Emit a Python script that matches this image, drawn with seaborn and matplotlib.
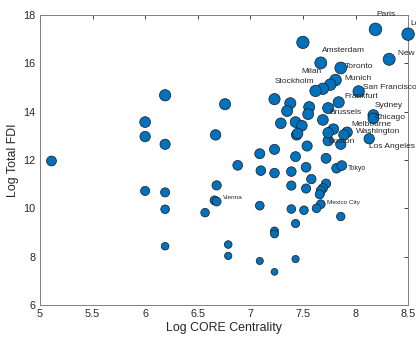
import numpy as np
import pandas as pd
import seaborn as sns
import matplotlib.pyplot as plt
from matplotlib.ticker import FuncFormatter

# log CORE centrality / log total FDI
core = [8.19, 8.50, 8.32, 7.67, 7.86, 7.81, 7.76, 7.69, 7.62, 8.03,
        7.84, 7.74, 8.17, 8.17, 7.79, 7.92, 7.89, 7.74, 8.13, 7.82,
        7.87, 6.66, 6.68, 7.67,
        7.50, 6.19, 6.00, 6.00, 6.19, 5.11, 6.76, 6.67, 7.23, 7.38,
        7.35, 7.56, 7.55, 7.69, 7.29, 7.43, 7.49, 7.44, 7.45, 7.74,
        7.86, 7.54, 7.09, 7.23, 7.43, 7.72, 6.88, 7.10, 7.23, 7.39,
        7.53, 7.58, 7.39, 7.53, 7.72, 7.69, 7.67, 7.66, 7.63, 7.51,
        7.39, 7.09, 7.86, 7.43, 7.23, 7.23, 6.57, 6.79, 6.79, 7.09,
        7.43, 7.23, 6.00, 6.19, 6.19, 6.19, 6.68]
fdi = [17.41, 17.21, 16.17, 16.02, 15.81, 15.31, 15.12, 14.95, 14.86, 14.84,
       14.39, 14.15, 13.86, 13.72, 13.28, 13.15, 13.04, 12.80, 12.88, 11.66,
       11.77, 10.33, 10.28, 10.17,
       16.87, 14.68, 13.57, 12.97, 12.65, 11.96, 14.31, 13.04, 14.52, 14.35,
       14.03, 14.19, 13.90, 13.66, 13.52, 13.57, 13.42, 13.04, 13.10, 13.13,
       12.65, 12.58, 12.26, 12.44, 12.14, 12.07, 11.78, 11.56, 11.46, 11.52,
       11.70, 11.21, 10.94, 10.82, 11.02, 10.83, 10.73, 10.58, 10.00, 9.92,
       9.97, 10.11, 9.66, 9.37, 9.06, 8.94, 9.82, 8.50, 8.03, 7.82,
       7.90, 7.37, 10.72, 10.66, 9.96, 8.43, 10.95]

# city labels and where their text sits
cities = ["Paris", "London", "New York", "Amsterdam", "Toronto", "Milan", "Munich",
          "Stockholm", "San Francisco", "Frankfurt", "Sydney", "Brussels", "Chicago",
          "Melbourne", "Washington", "Boston", "Los Angeles"]
city_x = [8.20, 8.52, 8.40, 7.68, 7.90, 7.49, 7.89, 7.23, 8.07, 7.89, 8.18,
          7.75, 8.18, 7.96, 8.00, 7.74, 8.13]
city_y = [18.02, 17.67, 16.41, 16.55, 15.86, 15.65, 15.37, 15.24, 15.02, 14.64,
          14.25, 13.95, 13.75, 13.45, 13.17, 12.77, 12.54]
small_cities = ["Tokyo", "Vienna", "Mexico City"]
small_x = [7.93, 6.74, 7.73]
small_y = [11.64, 10.43, 10.23]
small_fs = [5, 4.6, 4.6]

df = pd.DataFrame({"core": core, "fdi": fdi})

sns.set_style("white")
plt.rcParams['font.family'] = ['Liberation Sans', 'DejaVu Sans']

fig = plt.figure(figsize=(4.16, 3.43), dpi=100)
ax = fig.add_axes([0.096, 0.111, 0.885, 0.845])

sns.scatterplot(data=df, x="core", y="fdi", size="fdi", sizes=(24, 82),
                color="#0072BD", edgecolor="#1a1a1a", linewidth=0.5,
                legend=False, ax=ax, clip_on=False, zorder=3)

for name, x, y in zip(cities, city_x, city_y):
    ax.text(x, y, name, fontsize=6, va="center", ha="left", color="#262626")
for name, x, y, fs in zip(small_cities, small_x, small_y, small_fs):
    ax.text(x, y, name, fontsize=fs, va="center", ha="left", color="#262626")

ax.set_xlim(5, 8.5)
ax.set_ylim(6, 18)
ax.set_xticks(np.arange(5, 8.51, 0.5))
ax.set_yticks(np.arange(6, 18.1, 2))
ax.xaxis.set_major_formatter(FuncFormatter(lambda v, p: f"{v:g}"))
ax.tick_params(direction="in", top=True, right=True, length=3, width=0.6,
               labelsize=7.8, colors="#262626", pad=3)
for s in ax.spines.values():
    s.set_visible(True)
    s.set_color("#808080")
    s.set_linewidth(0.7)
ax.set_xlabel("Log CORE Centrality", fontsize=8.9, color="#262626", labelpad=2)
ax.set_ylabel("Log Total FDI", fontsize=8.9, color="#262626", labelpad=3)

fig.savefig("out.png", dpi=100)
